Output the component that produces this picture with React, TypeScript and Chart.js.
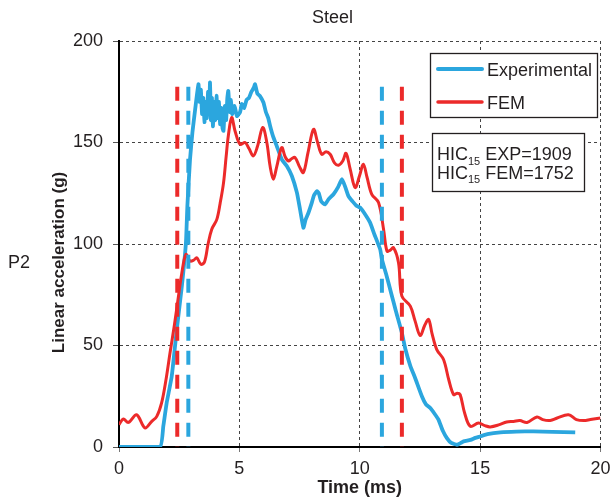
import React, { useEffect, useRef } from 'react';
import { Chart, registerables } from 'chart.js';

Chart.register(...registerables);

// ---- Data ----
const chartTitle = 'Steel';
const rowLabel = 'P2';
const xTitle = 'Time (ms)';
const yTitle = 'Linear acceleration (g)';
const seriesNames = ['Experimental', 'FEM'];

const xTicks = [0, 5, 10, 15, 20];
const yTicks = [0, 50, 100, 150, 200];

const expTime = [
  0, 1.7, 1.84, 1.98, 2.19, 2.4, 2.61, 2.78, 2.84, 2.95, 3.05, 3.16, 3.3,
  3.35, 3.4, 3.45, 3.5, 3.55, 3.6, 3.65, 3.7, 3.75, 3.78, 3.82, 3.86, 3.9, 3.95,
  4.0, 4.05, 4.1, 4.15, 4.2, 4.25, 4.3, 4.34, 4.4, 4.45, 4.5, 4.54, 4.6, 4.65,
  4.7, 4.8, 4.9, 5.03, 5.1, 5.2, 5.3, 5.4, 5.5, 5.6, 5.65, 5.75, 5.85, 6.0,
  6.1, 6.2, 6.28, 6.4, 6.55, 6.76, 6.97, 7.18, 7.39, 7.52, 7.66, 7.75, 7.87,
  8.0, 8.1, 8.22, 8.3, 8.4, 8.56, 8.7, 8.91, 9.1, 9.26, 9.4, 9.53, 9.7, 9.85,
  10.02, 10.2, 10.43, 10.6, 10.85, 10.92, 11.1, 11.3, 11.5, 11.75, 11.9, 12.1,
  12.3, 12.58, 12.75, 12.93, 13.1, 13.27, 13.45, 13.62, 13.8, 14.04, 14.2,
  14.31, 14.6, 14.8, 15.0, 15.3, 15.84, 16.5, 17.22, 18.0, 18.95,
];
const expAccel = [
  0, 0, 10.2, 21.7, 34.8, 57.9, 79.2, 100.6, 118.7, 141.7, 155, 166, 178.7,
  170, 176, 164, 172, 160, 170, 162, 175, 167, 179.6, 161, 172, 158, 170,
  161, 173, 162, 170, 159, 167, 157, 155.7, 168, 161, 172, 175.4, 165, 171,
  164, 168, 163, 165, 169, 167, 171, 172, 175, 177, 178.7, 174, 173, 169.7,
  165, 162, 158, 153, 148.3, 141.7, 138.4, 133.5, 125.3, 117, 108, 112, 115.4,
  120, 124, 126, 125, 121, 119.5, 122, 124.5, 128, 131.9, 128, 123.6, 121, 119,
  117.9, 115, 110.5, 105, 97.3, 92.4, 85, 76, 67, 56.2, 48, 40,
  34, 25, 21, 19.2, 16.5, 13.5, 8, 4.4, 2, 1.1, 2,
  2.8, 3.5, 4.5, 5.2, 6.3, 7.2, 7.6, 7.7, 7.5, 7.2,
];

const femTime = [
  0, 0.18, 0.39, 0.73, 1.08, 1.35, 1.57, 1.77, 1.95, 2.12, 2.3, 2.47, 2.6,
  2.78, 2.95, 3.1, 3.23, 3.4, 3.55, 3.7, 3.85, 4.06, 4.2, 4.34, 4.45, 4.54,
  4.68, 4.82, 5.03, 5.24, 5.4, 5.58, 5.75, 5.97, 6.14, 6.28, 6.41, 6.55, 6.76,
  6.9, 7.04, 7.17, 7.31, 7.5, 7.66, 7.85, 8.08, 8.25, 8.42, 8.6, 8.77, 8.95,
  9.12, 9.3, 9.43, 9.6, 9.81, 10.0, 10.15, 10.3, 10.5, 10.78, 10.99, 11.13,
  11.27, 11.4, 11.61, 11.75, 12.1, 12.3, 12.51, 12.7, 12.86, 13.0, 13.2, 13.48,
  13.7, 13.9, 14.05, 14.17, 14.35, 14.59, 14.93, 15.2, 15.42, 15.8, 16.1,
  16.39, 16.65, 16.95, 17.36, 17.6, 17.91, 18.2, 18.67, 19.0, 19.3, 19.58, 20,
];
const femAccel = [
  11, 13.8, 12.1, 15.9, 9.4, 12.5, 15.1, 21.7, 33, 46.4, 60, 74.3, 85,
  94.9, 91.6, 92, 93.2, 90, 91.1, 100, 107.2, 112, 120, 130, 143, 153.2,
  162.3, 155.7, 149.1, 150, 147, 143.4, 148, 157.4, 150, 138, 131.9, 138, 147.5,
  143, 140.9, 142, 142.6, 138, 135.2, 145, 156.5, 150, 144.2, 145.5, 144.2, 140,
  138.8, 141, 144.7, 137, 127.8, 134, 139.3, 133, 124.5, 120.4, 107.2, 96.5,
  97, 98.2, 90.8, 74.3, 69.4, 62, 54.9, 60, 62.8, 56, 48, 43.1,
  33, 25.8, 26.5, 25.8, 17, 10.2, 11.8, 10.5, 9.9, 11, 12.3,
  12.6, 13, 12.1, 14.8, 13.5, 13.1, 14.3, 15.9, 13.5, 13, 13.5, 14.3,
];

// HIC15 windows (ms) and the height of the marker lines (g)
const hicExpWindow = [2.88, 10.92];
const hicFemWindow = [2.42, 11.75];
const hicMarkerTop = 177.5;
const hicValues = [1909, 1752];
const hicLabels = ['EXP', 'FEM'];

// ---- Styles ----
const BLUE = '#2ba6de';
const RED = '#ec2a2a';
const TEXT = '#231f20';
const FONT = "'Liberation Sans', Arial, Helvetica, sans-serif";

const toPoints = (xs: number[], ys: number[]) => xs.map((x, i) => ({ x, y: ys[i] }));
const markerLine = (t: number) => [
  { x: t, y: hicMarkerTop },
  { x: t, y: 0 },
];

const overlayPlugin = {
  id: 'overlay',
  afterDraw(chart: any) {
    const ctx: CanvasRenderingContext2D = chart.ctx;
    const area = chart.chartArea;
    ctx.save();
    ctx.fillStyle = TEXT;
    ctx.textBaseline = 'alphabetic';

    // title
    ctx.font = `18px ${FONT}`;
    ctx.textAlign = 'center';
    ctx.fillText(chartTitle, 332.5, 23);

    // row label
    ctx.textAlign = 'left';
    ctx.fillText(rowLabel, 8, 268);

    // y title
    ctx.save();
    ctx.translate(64, 262.5);
    ctx.rotate(-Math.PI / 2);
    ctx.font = `bold 17px ${FONT}`;
    ctx.textAlign = 'center';
    ctx.fillText(yTitle, 0, 0);
    ctx.restore();

    // x title
    ctx.font = `bold 18px ${FONT}`;
    ctx.textAlign = 'center';
    ctx.fillText(xTitle, (area.left + area.right) / 2, 493);

    // legend box
    ctx.fillStyle = '#ffffff';
    ctx.fillRect(430.5, 53.5, 167, 64);
    ctx.strokeStyle = '#231f20';
    ctx.lineWidth = 1.3;
    ctx.strokeRect(430.5, 53.5, 167, 64);
    const legendRows = [
      { name: seriesNames[0], color: BLUE, y: 69, w: 4 },
      { name: seriesNames[1], color: RED, y: 102, w: 3.5 },
    ];
    ctx.font = `18px ${FONT}`;
    ctx.textAlign = 'left';
    for (const r of legendRows) {
      ctx.strokeStyle = r.color;
      ctx.lineWidth = r.w;
      ctx.lineCap = 'round';
      ctx.beginPath();
      ctx.moveTo(438, r.y);
      ctx.lineTo(482, r.y);
      ctx.stroke();
      ctx.fillStyle = TEXT;
      ctx.fillText(r.name, 487, r.y + 6.6);
    }

    // HIC box
    ctx.fillStyle = '#ffffff';
    ctx.fillRect(432.5, 133.5, 152, 58);
    ctx.strokeStyle = '#231f20';
    ctx.lineWidth = 1.3;
    ctx.strokeRect(432.5, 133.5, 152, 58);
    ctx.fillStyle = TEXT;
    const baselines = [160, 178.5];
    hicValues.forEach((v, i) => {
      let x = 437;
      const y = baselines[i];
      ctx.font = `18px ${FONT}`;
      ctx.fillText('HIC', x, y);
      x += ctx.measureText('HIC').width;
      ctx.font = `11px ${FONT}`;
      ctx.fillText('15', x, y + 4.5);
      x += ctx.measureText('15').width;
      ctx.font = `18px ${FONT}`;
      ctx.fillText(` ${hicLabels[i]}=${v}`, x, y);
    });
    ctx.restore();
  },
};

export default function App() {
  const canvasRef = useRef<HTMLCanvasElement | null>(null);

  useEffect(() => {
    const canvas = canvasRef.current;
    if (!canvas) return;
    const dashed = (t: number, color: string) => ({
      data: markerLine(t),
      borderColor: color,
      borderWidth: 4,
      borderDash: [14, 10],
      pointRadius: 0,
      fill: false,
      tension: 0,
    });
    const chart = new Chart(canvas, {
      type: 'line',
      data: {
        datasets: [
          dashed(hicFemWindow[0], RED),
          dashed(hicFemWindow[1], RED),
          dashed(hicExpWindow[0], BLUE),
          dashed(hicExpWindow[1], BLUE),
          {
            label: seriesNames[1],
            data: toPoints(femTime, femAccel),
            borderColor: RED,
            borderWidth: 3,
            pointRadius: 0,
            fill: false,
            tension: 0.35,
          },
          {
            label: seriesNames[0],
            data: toPoints(expTime, expAccel),
            borderColor: BLUE,
            borderWidth: 3.8,
            pointRadius: 0,
            fill: false,
            tension: 0.15,
          },
        ] as any,
      },
      options: {
        animation: false,
        responsive: false,
        maintainAspectRatio: false,
        layout: { padding: { left: 0, right: 12.5, top: 41, bottom: 0 } },
        plugins: {
          legend: { display: false },
          title: { display: false },
          tooltip: { enabled: false },
        },
        scales: {
          x: {
            type: 'linear',
            min: 0,
            max: 20,
            afterBuildTicks: (s: any) => {
              s.ticks = xTicks.map((v) => ({ value: v }));
            },
            afterFit: (s: any) => {
              s.height = 54;
              s.paddingLeft = 0;
              s.paddingRight = 0;
            },
            ticks: {
              color: TEXT,
              font: { family: FONT, size: 18 },
              padding: 6,
              maxRotation: 0,
            },
            grid: {
              color: '#444',
              lineWidth: 1,
              tickLength: 5,
              tickColor: '#777',
              tickWidth: 1,
            },
            border: { display: true, color: '#000', width: 2, dash: [3, 3] },
          },
          y: {
            type: 'linear',
            min: 0,
            max: 200,
            afterBuildTicks: (s: any) => {
              s.ticks = yTicks.map((v) => ({ value: v }));
            },
            afterFit: (s: any) => {
              s.width = 119;
              s.paddingTop = 0;
              s.paddingBottom = 0;
            },
            ticks: {
              color: TEXT,
              font: { family: FONT, size: 18 },
              padding: 10,
            },
            grid: {
              color: '#444',
              lineWidth: 1,
              tickLength: 6,
              tickColor: '#555',
              tickWidth: 1,
            },
            border: { display: true, color: '#000', width: 2, dash: [3, 3] },
          },
        },
      } as any,
      plugins: [overlayPlugin],
    });
    return () => chart.destroy();
  }, []);

  return (
    <div style={{ position: 'fixed', left: 0, top: 0, width: 613, height: 501, background: '#fff' }}>
      <canvas ref={canvasRef} width={613} height={501} style={{ display: 'block' }} />
    </div>
  );
}
